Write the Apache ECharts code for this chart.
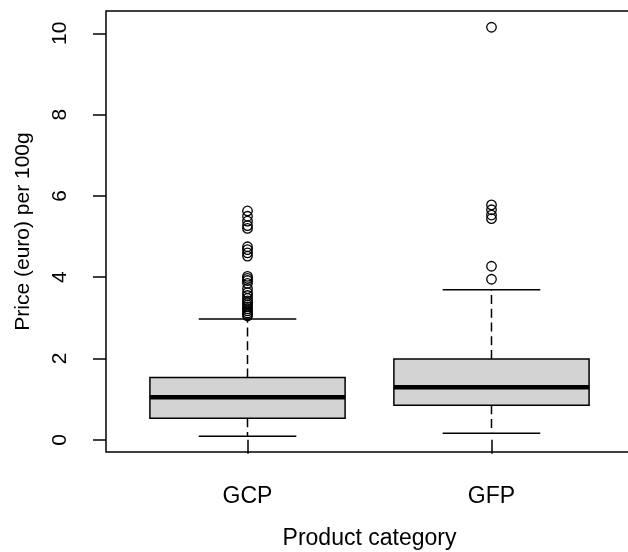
<!DOCTYPE html>
<html>
<head>
<meta charset="utf-8">
<script src="https://cdn.jsdelivr.net/npm/echarts@6/dist/echarts.min.js"></script>
<style>html,body{margin:0;padding:0;background:#fff;}#c{width:628px;height:552px;}</style>
</head>
<body>
<div id="c"></div>
<script>
// ---- data ----
const categories = ['GCP', 'GFP'];
const categoryPos = [1, 2];
// [lower whisker, Q1, median, Q3, upper whisker]
const gcpBox = [0.09, 0.53, 1.05, 1.53, 2.97];
const gfpBox = [0.16, 0.85, 1.29, 1.99, 3.69];
const gcpOutliers = [5.63, 5.50, 5.38, 5.27, 5.20, 4.75, 4.68, 4.60, 4.52,
  4.02, 3.97, 3.92, 3.85, 3.72, 3.62, 3.55, 3.48, 3.42, 3.37, 3.32, 3.27,
  3.22, 3.17, 3.12, 3.08, 3.05];
const gfpOutliers = [10.15, 5.78, 5.66, 5.53, 5.44, 4.27, 3.95];
const yTicks = [0, 2, 4, 6, 8, 10];

const boxData = [
  [categoryPos[0]].concat(gcpBox),
  [categoryPos[1]].concat(gfpBox)
];
const outlierData = [];
gcpOutliers.forEach(v => outlierData.push([categoryPos[0], v]));
gfpOutliers.forEach(v => outlierData.push([categoryPos[1], v]));

const FONT = 'Liberation Sans, Arial, sans-serif';
const chart = echarts.init(document.getElementById('c'), null, {renderer: 'canvas'});

function renderBox(params, api) {
  const x = api.value(0);
  const mn = api.value(1), q1 = api.value(2), md = api.value(3), q3 = api.value(4), mx = api.value(5);
  const w = api.size([0.8, 0])[0];
  const pMin = api.coord([x, mn]), pQ1 = api.coord([x, q1]), pMd = api.coord([x, md]),
        pQ3 = api.coord([x, q3]), pMax = api.coord([x, mx]);
  const cx = pMd[0];
  const solid = {stroke: '#000', lineWidth: 1.5};
  const dashed = {stroke: '#000', lineWidth: 1.5, lineDash: [9, 4.7]};
  return {
    type: 'group',
    children: [
      {type: 'line', shape: {x1: cx, y1: pQ3[1], x2: cx, y2: pMax[1]}, style: dashed},
      {type: 'line', shape: {x1: cx, y1: pQ1[1], x2: cx, y2: pMin[1]}, style: dashed},
      {type: 'line', shape: {x1: cx - w / 4, y1: pMax[1], x2: cx + w / 4, y2: pMax[1]}, style: solid},
      {type: 'line', shape: {x1: cx - w / 4, y1: pMin[1], x2: cx + w / 4, y2: pMin[1]}, style: solid},
      {type: 'rect', shape: {x: cx - w / 2, y: pQ3[1], width: w, height: pQ1[1] - pQ3[1]},
        style: {fill: '#d3d3d3', stroke: '#000', lineWidth: 1.5}},
      {type: 'line', shape: {x1: cx - w / 2, y1: pMd[1], x2: cx + w / 2, y2: pMd[1]},
        style: {stroke: '#000', lineWidth: 4.5}}
    ]
  };
}

chart.setOption({
  animation: false,
  backgroundColor: '#fff',
  grid: {
    left: 106, width: 527, top: 11, bottom: 100,
    outerBoundsMode: 'none', containLabel: false,
    show: true, borderColor: '#000', borderWidth: 1.5, backgroundColor: 'transparent'
  },
  xAxis: {
    type: 'value', min: 0.42, max: 2.58,
    name: 'Product category', nameLocation: 'middle', nameGap: 75,
    nameTextStyle: {fontFamily: FONT, fontSize: 23, color: '#000'},
    axisLine: {show: false},
    splitLine: {show: false},
    axisTick: {show: true, inside: false, length: 14, lineStyle: {color: '#000', width: 1.5},
      customValues: categoryPos},
    axisLabel: {show: true, margin: 33, fontFamily: FONT, fontSize: 23, color: '#000',
      customValues: categoryPos,
      formatter: v => categories[categoryPos.indexOf(v)] || ''}
  },
  yAxis: {
    type: 'value', min: -0.3, max: 10.55,
    name: 'Price (euro) per 100g', nameLocation: 'middle', nameGap: 72, nameRotate: 90,
    nameTextStyle: {fontFamily: FONT, fontSize: 21, color: '#000'},
    axisLine: {show: false},
    splitLine: {show: false},
    axisTick: {show: true, inside: false, length: 13, lineStyle: {color: '#000', width: 1.5},
      customValues: yTicks},
    axisLabel: {show: true, rotate: 90, margin: 35, fontFamily: FONT, fontSize: 21, color: '#000',
      customValues: yTicks}
  },
  series: [
    {
      type: 'custom',
      renderItem: renderBox,
      encode: {x: 0, y: [1, 2, 3, 4, 5]},
      data: boxData,
      silent: true,
      clip: false,
      z: 2
    },
    {
      type: 'scatter',
      data: outlierData,
      symbol: 'circle',
      symbolSize: 9.5,
      itemStyle: {color: 'rgba(0,0,0,0)', borderColor: '#000', borderWidth: 1.3, opacity: 1},
      silent: true,
      z: 3
    }
  ]
});
</script>
</body>
</html>
